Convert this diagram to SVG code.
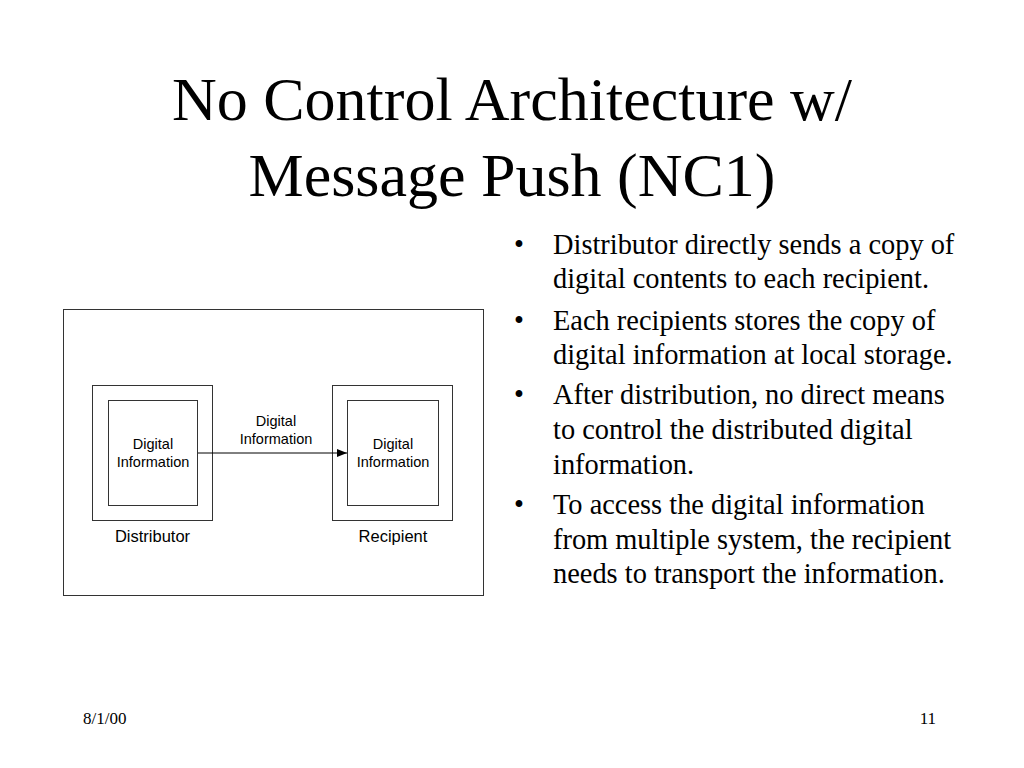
<svg xmlns="http://www.w3.org/2000/svg" width="1024" height="768" viewBox="0 0 1024 768">
<style>
.serif{font-family:"Liberation Serif","Times New Roman",serif;fill:#000}
.title{font-size:62px;text-anchor:middle}
.body{font-size:28.4px}
.foot{font-size:17px}
.sans{font-family:"Liberation Sans",Arial,sans-serif;fill:#000;text-anchor:middle}
.lbl{font-size:14.5px}
.cap{font-size:16.5px}
.box{fill:none;stroke:#333;stroke-width:1}
.conn{fill:none;stroke:#000;stroke-width:1}
</style>
<defs>
<marker id="arr" viewBox="0 0 10 8" refX="10" refY="4" markerWidth="10" markerHeight="8" markerUnits="userSpaceOnUse" orient="auto">
<path d="M0,0 L10,4 L0,8 Z" fill="#000"/>
</marker>
</defs>
<rect width="1024" height="768" fill="#fff"/>
<g id="title">
<text class="serif title" x="512" y="120">No Control Architecture w/</text>
<text class="serif title" x="512" y="196">Message Push (NC1)</text>
</g>
<g id="bullets" class="serif body">
<text x="514" y="254">•</text><text x="553" y="254">Distributor directly sends a copy of</text>
<text x="553" y="288">digital contents to each recipient.</text>
<text x="514" y="330">•</text><text x="553" y="330">Each recipients stores the copy of</text>
<text x="553" y="364">digital information at local storage.</text>
<text x="514" y="404">•</text><text x="553" y="404">After distribution, no direct means</text>
<text x="553" y="439">to control the distributed digital</text>
<text x="553" y="474">information.</text>
<text x="514" y="514">•</text><text x="553" y="514">To access the digital information</text>
<text x="553" y="549">from multiple system, the recipient</text>
<text x="553" y="583">needs to transport the information.</text>
</g>
<g id="frame">
<rect class="box" x="63.5" y="309.5" width="420" height="286"/>
</g>
<g id="distributor">
<rect class="box" x="92.5" y="385.5" width="120" height="135"/>
<rect class="box" x="108.5" y="400.5" width="89" height="105"/>
<text class="sans lbl" x="153" y="449">Digital</text>
<text class="sans lbl" x="153" y="467">Information</text>
<text class="sans cap" x="152.5" y="542">Distributor</text>
</g>
<g id="recipient">
<rect class="box" x="332.5" y="385.5" width="120" height="135"/>
<rect class="box" x="347.5" y="400.5" width="91" height="105"/>
<text class="sans lbl" x="393" y="449">Digital</text>
<text class="sans lbl" x="393" y="467">Information</text>
<text class="sans cap" x="393" y="542">Recipient</text>
</g>
<g id="connectors">
<line class="conn" x1="198" y1="453" x2="347" y2="453" marker-end="url(#arr)"/>
<text class="sans lbl" x="276" y="426">Digital</text>
<text class="sans lbl" x="276" y="444">Information</text>
</g>
<g id="footer" class="serif foot">
<text x="83" y="724">8/1/00</text>
<text x="936" y="724" text-anchor="end">11</text>
</g>
</svg>
